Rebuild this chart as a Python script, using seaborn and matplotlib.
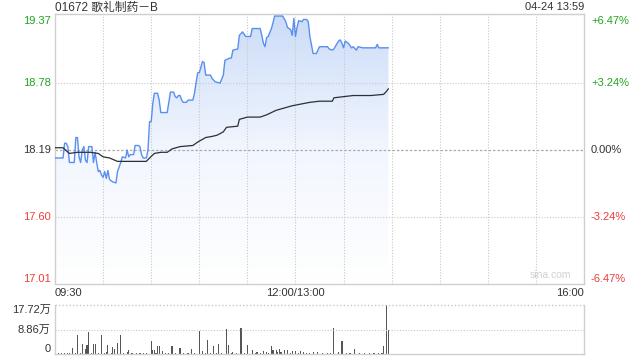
import numpy as np
import pandas as pd
import matplotlib
matplotlib.use("Agg")
import matplotlib.pyplot as plt
import seaborn as sns
from matplotlib.colors import LinearSegmentedColormap

# ---------------- data ----------------
title = "01672 歌礼制药－B"
stamp = "04-24 13:59"
prev_close = 18.19

price_minutes = [0, 5, 6, 7, 8, 9, 12, 13, 14, 15, 16, 17, 18, 19, 20, 21, 23, 24, 25, 26, 27, 28, 29, 30,
                 31, 32, 33, 34, 36, 38, 39, 41, 42, 44, 45, 46, 47, 49, 50, 52, 53, 54, 55, 57, 58, 59, 60,
                 61, 62, 64, 65, 66, 70, 72, 74, 75, 76, 77, 78, 79, 80, 82, 83, 86, 87, 89, 90, 92, 93, 94,
                 97, 98, 100, 103, 105, 106, 109, 110, 111, 114, 115, 117, 119, 122, 123, 128, 129, 130, 131,
                 132, 133, 135, 136, 137, 142, 144, 145, 147, 148, 149, 150, 151, 152, 154, 155, 157, 158, 159,
                 161, 163, 165, 170, 171, 173, 174, 176, 177, 178, 179, 180, 181, 183, 185, 186, 188, 189, 192,
                 200, 201, 202, 208]
price_values = [18.12, 18.12, 18.25, 18.25, 18.22, 18.08, 18.08, 18.30, 18.30, 18.13, 18.08, 18.19, 18.22,
                18.10, 18.08, 18.22, 18.22, 18.08, 18.17, 18.08, 18.00, 18.01, 17.97, 17.95, 18.00, 17.94,
                18.01, 17.93, 17.91, 17.90, 18.00, 18.08, 18.13, 18.12, 18.19, 18.13, 18.15, 18.15, 18.23,
                18.23, 18.22, 18.15, 18.12, 18.12, 18.19, 18.44, 18.44, 18.60, 18.69, 18.69, 18.63, 18.52,
                18.52, 18.70, 18.70, 18.66, 18.65, 18.67, 18.67, 18.63, 18.61, 18.61, 18.63, 18.63, 18.69,
                18.87, 18.87, 18.97, 18.96, 18.85, 18.85, 18.82, 18.79, 18.78, 18.85, 18.98, 19.00, 19.00,
                19.07, 19.08, 19.20, 19.23, 19.19, 19.19, 19.26, 19.26, 19.20, 19.13, 19.10, 19.18, 19.19,
                19.26, 19.31, 19.37, 19.37, 19.32, 19.27, 19.25, 19.20, 19.35, 19.19, 19.27, 19.33, 19.32,
                19.34, 19.34, 19.32, 19.19, 19.04, 19.04, 19.10, 19.10, 19.08, 19.07, 19.08, 19.13, 19.15,
                19.16, 19.13, 19.09, 19.15, 19.13, 19.09, 19.10, 19.07, 19.10, 19.09, 19.09, 19.12, 19.09,
                19.09]

avg_minutes = [0, 5, 9, 14, 22, 27, 30, 34, 39, 57, 59, 62, 66, 70, 73, 78, 86, 89, 94, 98, 101, 105, 107,
               114, 115, 120, 128, 132, 138, 148, 159, 165, 173, 174, 180, 186, 197, 205, 207, 208]
avg_values = [18.21, 18.21, 18.16, 18.17, 18.17, 18.16, 18.13, 18.12, 18.09, 18.09, 18.12, 18.16, 18.17,
              18.17, 18.20, 18.22, 18.23, 18.26, 18.30, 18.31, 18.32, 18.35, 18.39, 18.40, 18.46, 18.48,
              18.48, 18.50, 18.54, 18.58, 18.61, 18.62, 18.62, 18.65, 18.66, 18.67, 18.67, 18.68, 18.71,
              18.73]

# volume in 万 shares
vol_minutes = [11, 14, 17, 19, 20, 21, 24, 25, 29, 32, 33, 36, 37, 39, 41, 45, 46, 60, 61, 62, 64, 65, 67,
               73, 78, 85, 90, 92, 95, 99, 102, 107, 108, 111, 116, 120, 123, 126, 130, 132, 135, 136, 138,
               140, 141, 143, 145, 148, 150, 153, 155, 161, 174, 179, 187, 205, 207, 208]
vol_values = [2.2, 6.9, 3.7, 1.8, 3.4, 8.1, 3.7, 3.7, 6.9, 0.6, 3.4, 2.5, 1.8, 4.0, 6.9, 0.6, 1.6, 4.8, 1.6,
              1.3, 2.8, 3.0, 1.0, 3.0, 2.2, 1.8, 8.4, 1.0, 5.1, 2.8, 3.7, 9.0, 3.4, 0.6, 9.5, 3.1, 1.6, 0.6,
              1.0, 0.8, 2.8, 1.5, 1.3, 1.8, 0.8, 1.5, 1.3, 1.0, 1.0, 1.0, 0.8, 0.8, 9.5, 4.8, 1.9, 2.8,
              17.6, 8.7]
small_minutes = [0, 2, 4, 6, 8, 9, 13, 16, 23, 27, 31, 35, 43, 48, 51, 53, 55, 57, 63, 69, 71, 75, 80, 83,
                 87, 94, 97, 101, 104, 110, 113, 118, 125, 128, 133, 139, 147, 152, 157, 159, 164, 167, 170,
                 172, 177, 182, 184, 190, 193, 196, 199, 202, 204]
small_values = [0.3, 0.2, 0.3, 0.4, 0.2, 0.5, 0.3, 0.4, 0.3, 0.2, 0.4, 0.3, 0.3, 0.2, 0.3, 0.2, 0.3, 0.2,
                0.4, 0.3, 0.2, 0.4, 0.3, 0.3, 0.2, 0.4, 0.3, 0.3, 0.4, 0.3, 0.3, 0.5, 0.4, 0.3, 0.5, 0.6,
                0.4, 0.5, 0.4, 0.3, 0.6, 0.5, 0.4, 0.5, 0.6, 0.5, 0.4, 0.5, 0.4, 0.3, 0.4, 0.5, 0.3]

price_ticks = [17.01, 17.60, 18.19, 18.78, 19.37]
pct_ticks = ["-6.47%", "-3.24%", "0.00%", "+3.24%", "+6.47%"]
vol_ticks = [0, 8.86, 17.72]
vol_tick_labels = ["0", "8.86万", "17.72万"]
time_labels = ["09:30", "12:00/13:00", "16:00"]

# ---------------- style ----------------
sns.set_theme(style="white")
plt.rcParams["font.family"] = ["Liberation Sans", "Noto Sans CJK SC", "DejaVu Sans"]

GREEN = "#1ea51e"
RED = "#f03c3c"
GRAY_TXT = "#333333"
GRID = "#c8c8c8"
SPINE = "#cfcfcf"
LINE_BLUE = "#5a8ff0"

fig = plt.figure(figsize=(6.4, 3.6), dpi=100)
ax = fig.add_axes([55 / 640, 1 - 284 / 360, 529 / 640, 270 / 360])
axv = fig.add_axes([55 / 640, 1 - 354 / 360, 529 / 640, 49 / 360])

ymin, ymax = 17.01, 19.388
xmax = 330

pdf = pd.DataFrame({"minute": price_minutes, "price": price_values})
adf = pd.DataFrame({"minute": avg_minutes, "avg": avg_values})

# gradient fill under price
cmap = LinearSegmentedColormap.from_list("fill", ["#ffffff", "#f2f6fe", "#cbdcf8"])
grad = np.linspace(0, 1, 256).reshape(-1, 1)
im = ax.imshow(grad, aspect="auto", cmap=cmap, origin="lower",
               extent=[0, xmax, ymin, ymax], zorder=1)
poly = ax.fill_between(pdf["minute"], pdf["price"], ymin, color="none", lw=0)
clip_path = poly.get_paths()[0]
im.set_clip_path(clip_path, transform=ax.transData)

sns.lineplot(data=pdf, x="minute", y="price", ax=ax, color=LINE_BLUE, lw=1.0, zorder=3)
sns.lineplot(data=adf, x="minute", y="avg", ax=ax, color="#2b2f36", lw=0.9, zorder=4)

ax.set_xlim(0, xmax)
ax.set_ylim(ymin, ymax)
ax.set_xlabel("")
ax.set_ylabel("")

# grid lines
for m in range(30, xmax, 30):
    ax.axvline(m, color=GRID, lw=0.8, ls=(0, (1, 1.5)), zorder=2)
for v in [17.60, 18.78]:
    ax.axhline(v, color=GRID, lw=0.8, ls=(0, (1, 1.5)), zorder=2)
ax.axhline(prev_close, color="#aaaaaa", lw=0.9, ls=(0, (2, 1.5)), zorder=2)

for s in ax.spines.values():
    s.set_color(SPINE)
    s.set_linewidth(1.0)

vas = ["bottom", "center", "center", "center", "top"]
ax.set_yticks(price_ticks)
ax.set_yticklabels([f"{v:.2f}" for v in price_ticks], fontsize=8)
cols = [RED, RED, GRAY_TXT, GREEN, GREEN]
for lbl, c, va in zip(ax.get_yticklabels(), cols, vas):
    lbl.set_color(c)
    lbl.set_va(va)
ax.tick_params(axis="y", length=0, pad=3)

ax.set_xticks([0, 150, 330])
ax.set_xticklabels(time_labels, fontsize=8, color=GRAY_TXT)
ax.tick_params(axis="x", length=0, pad=3)
xl = ax.get_xticklabels()
xl[0].set_ha("left")
xl[2].set_ha("right")

axr = ax.twinx()
axr.set_ylim(ymin, ymax)
axr.set_yticks(price_ticks)
axr.set_yticklabels(pct_ticks, fontsize=8)
for lbl, c, va in zip(axr.get_yticklabels(), cols, vas):
    lbl.set_color(c)
    lbl.set_va(va)
axr.tick_params(axis="y", length=0, pad=5)
axr.grid(False)
for s in axr.spines.values():
    s.set_visible(False)

ax.text(0, 1 + 3.5 / 270, title, transform=ax.transAxes, ha="left", va="baseline",
        fontsize=8.5, color=GRAY_TXT)
ax.text(1, 1 + 3.5 / 270, stamp, transform=ax.transAxes, ha="right", va="baseline",
        fontsize=8, color=GRAY_TXT)
ax.text(0.975, 0.015, "sina.com", transform=ax.transAxes, ha="right", va="bottom",
        fontsize=7.5, color="#d0d0d0")

# volume
axv.bar(small_minutes, small_values, width=0.7, color="#555555", lw=0)
axv.bar(vol_minutes, vol_values, width=0.7, color="#555555", lw=0)
axv.set_xlim(0, xmax)
axv.set_ylim(0, 17.72)
axv.set_xticks([])
axv.set_yticks(vol_ticks)
axv.set_yticklabels(vol_tick_labels, fontsize=8, color=GRAY_TXT)
for lbl, va in zip(axv.get_yticklabels(), ["bottom", "center", "top"]):
    lbl.set_va(va)
axv.tick_params(axis="y", length=0, pad=3)
axv.axhline(8.86, color=GRID, lw=0.8, ls=(0, (1, 1.5)))
for k in ["left", "right", "bottom"]:
    axv.spines[k].set_color(SPINE)
    axv.spines[k].set_linewidth(1.0)
axv.spines["top"].set_visible(False)
axv.axhline(17.72, color=GRID, lw=1.0, ls=(0, (1, 1.5)), clip_on=False)

fig.savefig("out.png", dpi=100)
